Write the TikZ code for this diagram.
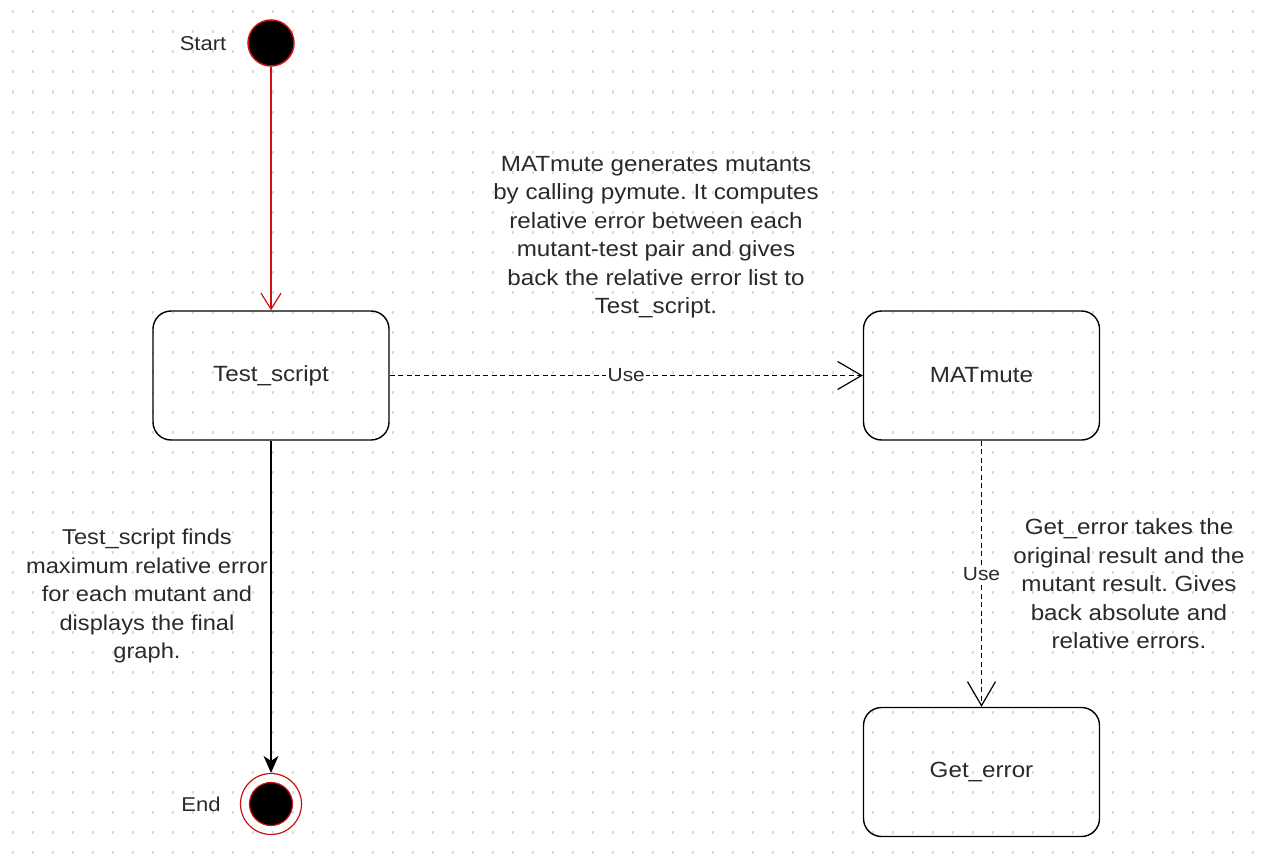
\documentclass[tikz,border=0pt]{standalone}
\usepackage{fontspec}
\setmainfont{Liberation Sans}[FakeStretch=1.1]
\usetikzlibrary{arrows.meta}
\frenchspacing

\definecolor{ink}{HTML}{2A2A2A}
\definecolor{umlred}{HTML}{D01010}

\tikzset{
  griddot/.style={gray!28, line width=3pt, dash pattern=on 1.5pt off 18.5pt, dash phase=8pt},
  statebox/.style={draw=black, line width=1.4pt, rounded corners=18pt, minimum width=236pt,
    minimum height=129pt, inner sep=0pt, text=ink, font=\fontsize{22}{26}\selectfont},
  note/.style={align=center, text=ink, inner sep=0pt, font=\fontsize{22}{28.5}\selectfont},
  tag/.style={text=ink, inner sep=0pt, font=\fontsize{20}{24}\selectfont},
  initial/.style={circle, fill=black, draw=umlred, line width=1.5pt, minimum size=46pt, inner sep=0pt},
  finalring/.style={circle, draw=umlred, line width=1.2pt, minimum size=61pt, inner sep=0pt},
  finaldot/.style={circle, fill=black, draw=umlred, line width=1.2pt, minimum size=43pt, inner sep=0pt},
  flow/.style={draw=umlred, line width=1.2pt, -{Straight Barb[length=16pt,width=20pt]}},
  solidflow/.style={draw=black, line width=1.4pt, -{Stealth[length=17pt,width=15pt,inset=5pt]}},
  usedep/.style={draw=black, line width=1.2pt, dash pattern=on 5pt off 3.5pt,
    -{Straight Barb[length=24pt,width=28pt]}},
  uselabel/.style={fill=white, text=ink, inner sep=1.5pt, font=\fontsize{19}{22}\selectfont},
}

\begin{document}
\begin{tikzpicture}[x=1pt, y=-1pt]
  % page and dotted grid
  \fill[white] (0,0) rectangle (1264,867);
  \useasboundingbox (0,0) rectangle (1264,867);
  \foreach \gy in {12,32,...,852} {
    \draw[griddot] (0,\gy) -- (1264,\gy);
  }

  % states
  \node[initial] (start) at (271,43) {};
  \node[tag] (startlbl) at (203,44) {Start};

  \node[statebox] (test) at (271,375.5) {Test\_script};
  \node[statebox] (mat) at (981.5,375.5) {MATmute};
  \node[statebox] (get) at (981.5,772) {Get\_error};

  \node[finalring] (endring) at (271,804) {};
  \node[finaldot] (enddot) at (endring.center) {};
  \node[tag] (endlbl) at (201,804) {End};

  % notes
  \node[note] (matnote) at (656,237) {MATmute generates mutants\\by calling pymute. It computes\\relative error between each\\mutant-test pair and gives\\back the relative error list to\\Test\_script.};
  \node[note, font=\fontsize{21.5}{28.5}\selectfont] (testnote) at (147,596) {Test\_script finds\\maximum relative error\\for each mutant and\\displays the final\\graph.};
  \node[note] (getnote) at (1129,584) {Get\_error takes the\\original result and the\\mutant result. Gives\\back absolute and\\relative errors.};

  % connectors
  \draw[flow] (start) -- (test);
  \draw[solidflow] (test) -- (endring);
  \draw[usedep] (test) -- node[uselabel] (use1) {Use} (mat);
  \draw[usedep] (mat) -- node[uselabel] (use2) {Use} (get);
\end{tikzpicture}
\end{document}
